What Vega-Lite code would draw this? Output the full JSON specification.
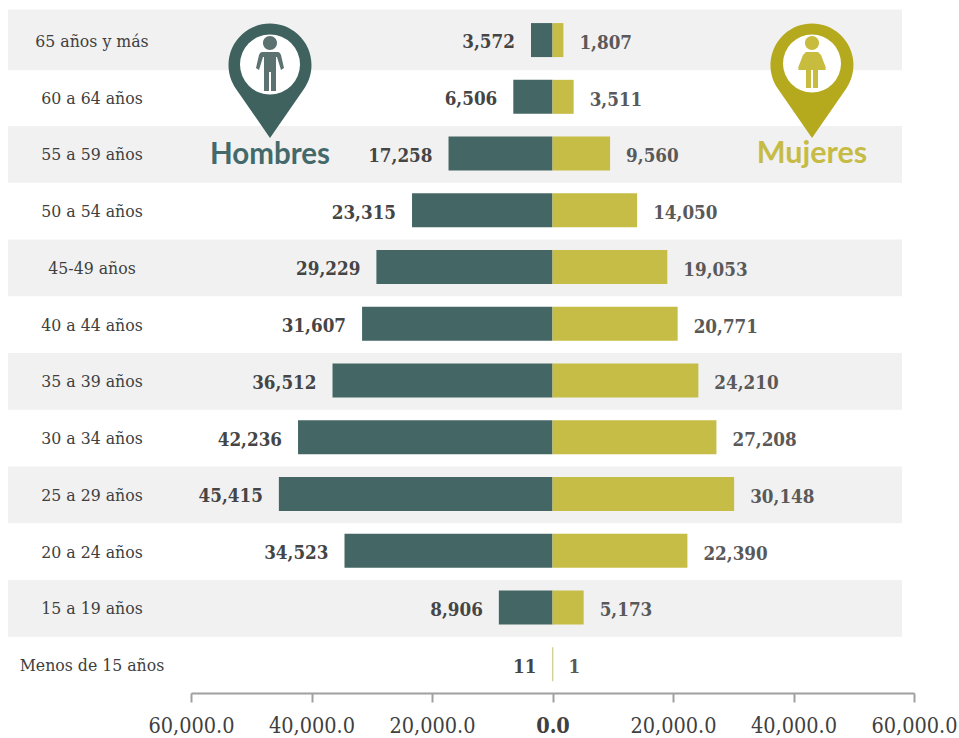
{
"$schema":"https://vega.github.io/schema/vega-lite/v6.json",
"width":959,"height":693,
"autosize":"none",
"padding":{"left":0,"top":0,"right":0,"bottom":45},
"background":"white",
"config":{"view":{"stroke":null}},
"datasets":{
"pob":[
{"edad":"65 años  y más","sexo":"Hombres","valor":-3572,"etiqueta":"3,572"},
{"edad":"60 a 64 años","sexo":"Hombres","valor":-6506,"etiqueta":"6,506"},
{"edad":"55 a 59 años","sexo":"Hombres","valor":-17258,"etiqueta":"17,258"},
{"edad":"50 a 54 años","sexo":"Hombres","valor":-23315,"etiqueta":"23,315"},
{"edad":"45-49 años","sexo":"Hombres","valor":-29229,"etiqueta":"29,229"},
{"edad":"40 a 44 años","sexo":"Hombres","valor":-31607,"etiqueta":"31,607"},
{"edad":"35 a 39 años","sexo":"Hombres","valor":-36512,"etiqueta":"36,512"},
{"edad":"30 a 34 años","sexo":"Hombres","valor":-42236,"etiqueta":"42,236"},
{"edad":"25 a 29 años","sexo":"Hombres","valor":-45415,"etiqueta":"45,415"},
{"edad":"20 a 24 años","sexo":"Hombres","valor":-34523,"etiqueta":"34,523"},
{"edad":"15 a 19 años","sexo":"Hombres","valor":-8906,"etiqueta":"8,906"},
{"edad":"Menos de 15 años","sexo":"Hombres","valor":-11,"etiqueta":"11"},
{"edad":"65 años  y más","sexo":"Mujeres","valor":1807,"etiqueta":"1,807"},
{"edad":"60 a 64 años","sexo":"Mujeres","valor":3511,"etiqueta":"3,511"},
{"edad":"55 a 59 años","sexo":"Mujeres","valor":9560,"etiqueta":"9,560"},
{"edad":"50 a 54 años","sexo":"Mujeres","valor":14050,"etiqueta":"14,050"},
{"edad":"45-49 años","sexo":"Mujeres","valor":19053,"etiqueta":"19,053"},
{"edad":"40 a 44 años","sexo":"Mujeres","valor":20771,"etiqueta":"20,771"},
{"edad":"35 a 39 años","sexo":"Mujeres","valor":24210,"etiqueta":"24,210"},
{"edad":"30 a 34 años","sexo":"Mujeres","valor":27208,"etiqueta":"27,208"},
{"edad":"25 a 29 años","sexo":"Mujeres","valor":30148,"etiqueta":"30,148"},
{"edad":"20 a 24 años","sexo":"Mujeres","valor":22390,"etiqueta":"22,390"},
{"edad":"15 a 19 años","sexo":"Mujeres","valor":5173,"etiqueta":"5,173"},
{"edad":"Menos de 15 años","sexo":"Mujeres","valor":1,"etiqueta":"1"}
],
"franjas":[
{"edad":"65 años  y más"},{"edad":"55 a 59 años"},{"edad":"45-49 años"},{"edad":"35 a 39 años"},{"edad":"25 a 29 años"},{"edad":"15 a 19 años"}
],
"uno":[{"edad":"60 a 64 años","titulo":"55 a 59 años"}],
"tope":[{"edad":"65 años  y más"}],
"linea":[{"edad":"Menos de 15 años"}]
},
"encoding":{
"y":{"field":"edad","type":"nominal","sort":null,"title":null,"axis":null,
"scale":{"domain":["65 años  y más","60 a 64 años","55 a 59 años","50 a 54 años","45-49 años","40 a 44 años","35 a 39 años","30 a 34 años","25 a 29 años","20 a 24 años","15 a 19 años","Menos de 15 años"],"range":[12.4,693.4],"paddingInner":0,"paddingOuter":0}}
},
"layer":[
{"data":{"name":"franjas"},
 "mark":{"type":"rect","fill":"#f1f1f1"},
 "encoding":{"x":{"datum":-90373,"type":"quantitative","title":null,
   "scale":{"domain":[-60000,60000],"range":[191,914],"clamp":false},
   "axis":{"values":[-60000,-40000,-20000,0,20000,40000,60000],
     "labelExpr":"format(abs(datum.value), ',.1f')","labelFlush":false,"labelOverlap":false,"labelBound":false,
     "labelFont":"DejaVu Serif Condensed","labelFontSize":21.5,"labelColor":"#404040","labelPadding":13,
     "labelFontWeight":{"condition":{"test":"datum.value == 0","value":"bold"},"value":"normal"},
     "domainColor":"#a0a0a0","domainWidth":2,"tickColor":"#a0a0a0","tickWidth":2,"tickSize":9,"grid":false,"title":null}},
   "x2":{"datum":58008}}},
{"data":{"name":"tope"},
 "mark":{"type":"rect","fill":"#f1f1f1","yOffset":-3},
 "encoding":{"x":{"datum":-90373,"type":"quantitative"},"x2":{"datum":58008}}},
{"data":{"name":"tope"},
 "mark":{"type":"rect","fill":"#f1f1f1","yOffset":1},
 "encoding":{"x":{"datum":-90373,"type":"quantitative"},"x2":{"datum":58008}}},
{"data":{"name":"pob"},
 "mark":{"type":"bar","size":34,"yOffset":-0.7},
 "encoding":{"x":{"field":"valor","type":"quantitative","stack":null},
  "color":{"field":"sexo","type":"nominal","legend":null,"scale":{"domain":["Hombres","Mujeres"],"range":["#446765","#c6bd46"]}}}},
{"data":{"name":"linea"},
 "mark":{"type":"rect","fill":"#c9c27a","height":34,"yOffset":-0.7},
 "encoding":{"x":{"datum":-40,"type":"quantitative"},"x2":{"datum":130}}},
{"data":{"name":"pob"},
 "transform":[{"filter":"datum.sexo == 'Hombres'"}],
 "mark":{"type":"text","align":"right","baseline":"middle","dx":-16,"dy":1.5,"font":"DejaVu Serif Condensed","fontWeight":"bold","fontSize":18.7,"fill":"#454545"},
 "encoding":{"x":{"field":"valor","type":"quantitative"},"text":{"field":"etiqueta"}}},
{"data":{"name":"pob"},
 "transform":[{"filter":"datum.sexo == 'Mujeres'"}],
 "mark":{"type":"text","align":"left","baseline":"middle","dx":16,"dy":2,"font":"DejaVu Serif Condensed","fontWeight":"bold","fontSize":18.7,"fill":"#595959"},
 "encoding":{"x":{"field":"valor","type":"quantitative"},"text":{"field":"etiqueta"}}},
{"data":{"name":"uno"},
 "mark":{"type":"point","filled":true,"size":4,"opacity":1,"yOffset":-16.5,"fill":"#3f625f","stroke":null,
   "shape":"M0 57L-34.1 7.6A41.5 41.5 0 1 1 34.1 7.6Z"},
 "encoding":{"x":{"datum":-46888,"type":"quantitative"}}},
{"data":{"name":"uno"},
 "mark":{"type":"point","filled":true,"size":3600,"opacity":1,"yOffset":-33,"fill":"white","stroke":null,"shape":"circle"},
 "encoding":{"x":{"datum":-46888,"type":"quantitative"}}},
{"data":{"name":"uno"},
 "mark":{"type":"point","filled":true,"size":4,"opacity":1,"yOffset":-16.5,"fill":"#5b7270","stroke":null,
   "shape":"M-7 -38A7 7 0 1 1 7 -38A7 7 0 1 1 -7 -38ZM-8 -29L8 -29Q10 -29 11 -26L14 -13L11 -11L7 -24L6 -24L6 10L1 10L1 -9L-1 -9L-1 10L-6 10L-6 -24L-7 -24L-11 -11L-14 -13L-11 -26Q-10 -29 -8 -29Z"},
 "encoding":{"x":{"datum":-46888,"type":"quantitative"}}},
{"data":{"name":"uno"},
 "mark":{"type":"point","filled":true,"size":4,"opacity":1,"yOffset":-16.5,"fill":"#b5aa1e","stroke":null,
   "shape":"M0 57L-34.1 7.6A41.5 41.5 0 1 1 34.1 7.6Z"},
 "encoding":{"x":{"datum":43071,"type":"quantitative"}}},
{"data":{"name":"uno"},
 "mark":{"type":"point","filled":true,"size":3364,"opacity":1,"yOffset":-34,"fill":"white","stroke":null,"shape":"circle"},
 "encoding":{"x":{"datum":43071,"type":"quantitative"}}},
{"data":{"name":"uno"},
 "mark":{"type":"point","filled":true,"size":4,"opacity":1,"yOffset":-16.5,"fill":"#c8bc3e","stroke":null,
   "shape":"M-7 -38A7 7 0 1 1 7 -38A7 7 0 1 1 -7 -38ZM-6 -29L6 -29L9 -26L14 -13L11 -11L6 -21L14 -11L-14 -11L-6 -21L-11 -11L-14 -13L-9 -26ZM-6 -11L-1 -11L-1 7L-6 7ZM1 -11L6 -11L6 7L1 7Z"},
 "encoding":{"x":{"datum":43071,"type":"quantitative"}}},
{"data":{"name":"uno"},
 "mark":{"type":"text","align":"center","baseline":"middle","font":"Lato","fontWeight":"bold","fontSize":29.5,"dy":1,"fill":"#44696a","text":"Hombres"},
 "encoding":{"y":{"field":"titulo","type":"nominal"},"x":{"datum":-46888,"type":"quantitative"}}},
{"data":{"name":"uno"},
 "mark":{"type":"text","align":"center","baseline":"middle","font":"Lato","fontWeight":"bold","fontSize":30.5,"dy":0,"fill":"#c6bc45","text":"Mujeres"},
 "encoding":{"y":{"field":"titulo","type":"nominal"},"x":{"datum":43071,"type":"quantitative"}}},
{"data":{"name":"pob"},
 "transform":[{"filter":"datum.sexo == 'Hombres'"}],
 "mark":{"type":"text","align":"center","baseline":"middle","dy":1,"font":"DejaVu Serif Condensed","fontSize":17.5,"fill":"#404040"},
 "encoding":{"x":{"datum":-76431,"type":"quantitative"},"text":{"field":"edad"}}}
]
}
